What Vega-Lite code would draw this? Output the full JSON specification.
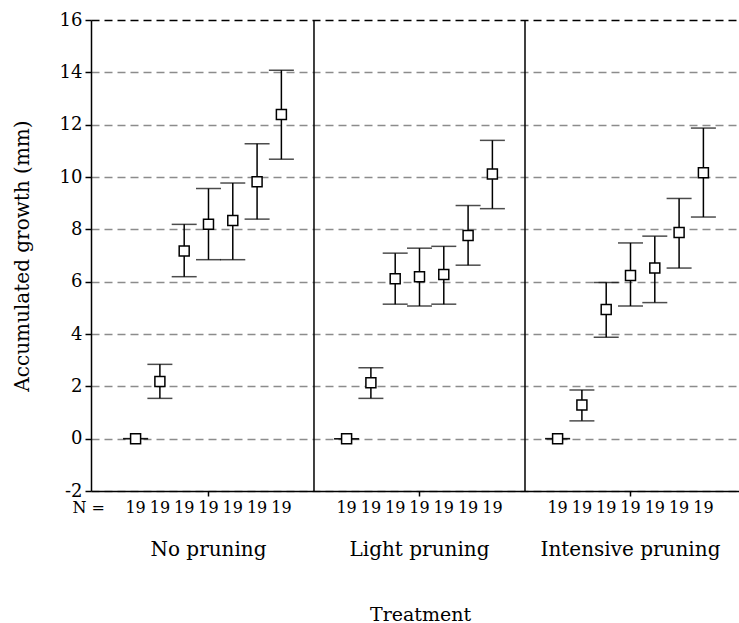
{
  "$schema": "https://vega.github.io/schema/vega-lite/v6.json",
  "width": 648,
  "height": 471,
  "autosize": {"type": "none"},
  "padding": {"left": 91, "top": 20, "right": 0, "bottom": 132},
  "background": "white",
  "config": {
    "view": {"stroke": null},
    "font": "DejaVu Serif",
    "axis": {
      "labelFont": "DejaVu Serif",
      "titleFont": "DejaVu Serif",
      "labelColor": "black",
      "titleColor": "black",
      "domainColor": "black",
      "tickColor": "black",
      "titleFontWeight": "normal",
      "domainWidth": 1.5,
      "tickWidth": 1.5
    },
    "axisX": {"tickSize": 5, "labelPadding": 59, "labelBaseline": "alphabetic", "labelFontSize": 20, "titleFontSize": 19, "titleBaseline": "alphabetic", "titleY": 129, "titleX": 329, "grid": false, "labelAngle": 0},
    "axisY": {"tickSize": 6, "labelPadding": 3, "labelFontSize": 18, "titleFontSize": 20, "titleBaseline": "alphabetic", "titleX": -63, "grid": true, "gridDash": [8, 5], "gridWidth": 1.5, "gridColor": "#8c8c8c"}
  },
  "data": {
    "values": [
      {"treatment": "No pruning", "time": 1, "mean": 0, "lower": 0, "upper": 0, "n": 19},
      {"treatment": "No pruning", "time": 2, "mean": 2.18, "lower": 1.54, "upper": 2.84, "n": 19},
      {"treatment": "No pruning", "time": 3, "mean": 7.17, "lower": 6.19, "upper": 8.19, "n": 19},
      {"treatment": "No pruning", "time": 4, "mean": 8.19, "lower": 6.84, "upper": 9.56, "n": 19},
      {"treatment": "No pruning", "time": 5, "mean": 8.34, "lower": 6.84, "upper": 9.77, "n": 19},
      {"treatment": "No pruning", "time": 6, "mean": 9.82, "lower": 8.39, "upper": 11.27, "n": 19},
      {"treatment": "No pruning", "time": 7, "mean": 12.39, "lower": 10.68, "upper": 14.08, "n": 19},
      {"treatment": "Light pruning", "time": 1, "mean": 0, "lower": 0, "upper": 0, "n": 19},
      {"treatment": "Light pruning", "time": 2, "mean": 2.14, "lower": 1.54, "upper": 2.71, "n": 19},
      {"treatment": "Light pruning", "time": 3, "mean": 6.11, "lower": 5.14, "upper": 7.09, "n": 19},
      {"treatment": "Light pruning", "time": 4, "mean": 6.19, "lower": 5.07, "upper": 7.28, "n": 19},
      {"treatment": "Light pruning", "time": 5, "mean": 6.27, "lower": 5.14, "upper": 7.35, "n": 19},
      {"treatment": "Light pruning", "time": 6, "mean": 7.76, "lower": 6.63, "upper": 8.91, "n": 19},
      {"treatment": "Light pruning", "time": 7, "mean": 10.11, "lower": 8.79, "upper": 11.40, "n": 19},
      {"treatment": "Intensive pruning", "time": 1, "mean": 0, "lower": 0, "upper": 0, "n": 19},
      {"treatment": "Intensive pruning", "time": 2, "mean": 1.29, "lower": 0.68, "upper": 1.86, "n": 19},
      {"treatment": "Intensive pruning", "time": 3, "mean": 4.94, "lower": 3.88, "upper": 5.97, "n": 19},
      {"treatment": "Intensive pruning", "time": 4, "mean": 6.24, "lower": 5.07, "upper": 7.48, "n": 19},
      {"treatment": "Intensive pruning", "time": 5, "mean": 6.52, "lower": 5.20, "upper": 7.74, "n": 19},
      {"treatment": "Intensive pruning", "time": 6, "mean": 7.88, "lower": 6.52, "upper": 9.18, "n": 19},
      {"treatment": "Intensive pruning", "time": 7, "mean": 10.16, "lower": 8.47, "upper": 11.87, "n": 19}
    ]
  },
  "layer": [
    {
      "mark": {"type": "rule", "color": "black", "strokeWidth": 1.5},
      "encoding": {
        "x": {"field": "treatment", "type": "nominal", "title": "Treatment", "sort": ["No pruning", "Light pruning", "Intensive pruning"],
              "scale": {"domain": ["No pruning", "Light pruning", "Intensive pruning"], "paddingInner": 0, "paddingOuter": 0.0355, "align": 0.8}},
        "xOffset": {"field": "time", "type": "ordinal", "scale": {"paddingInner": 0, "paddingOuter": 0.842}},
        "y": {"field": "lower", "type": "quantitative", "title": "Accumulated growth (mm)",
              "scale": {"domain": [-2, 16], "nice": false, "zero": false},
              "axis": {"values": [-2, 0, 2, 4, 6, 8, 10, 12, 14, 16],
                       "labelExpr": "datum.value < 0 ? '-' + abs(datum.value) : datum.label",
                       "gridColor": {"condition": {"test": "datum.value === 16", "value": "black"}, "value": "#8c8c8c"}}},
        "y2": {"field": "upper"}
      }
    },
    {
      "mark": {"type": "tick", "color": "black", "thickness": 1.5, "size": 25},
      "encoding": {
        "x": {"field": "treatment", "type": "nominal", "title": "Treatment"},
        "xOffset": {"field": "time", "type": "ordinal"},
        "y": {"field": "upper", "type": "quantitative", "title": "Accumulated growth (mm)"}
      }
    },
    {
      "mark": {"type": "tick", "color": "black", "thickness": 1.5, "size": 25},
      "encoding": {
        "x": {"field": "treatment", "type": "nominal", "title": "Treatment"},
        "xOffset": {"field": "time", "type": "ordinal"},
        "y": {"field": "lower", "type": "quantitative", "title": "Accumulated growth (mm)"}
      }
    },
    {
      "mark": {"type": "point", "shape": "square", "filled": true, "fill": "white", "stroke": "black", "strokeWidth": 1.5, "size": 100, "opacity": 1},
      "encoding": {
        "x": {"field": "treatment", "type": "nominal", "title": "Treatment"},
        "xOffset": {"field": "time", "type": "ordinal"},
        "y": {"field": "mean", "type": "quantitative", "title": "Accumulated growth (mm)"}
      }
    },
    {
      "mark": {"type": "text", "fontSize": 16, "baseline": "middle", "dy": 17, "color": "black", "font": "DejaVu Serif"},
      "encoding": {
        "x": {"field": "treatment", "type": "nominal", "title": "Treatment"},
        "xOffset": {"field": "time", "type": "ordinal"},
        "y": {"datum": -2, "type": "quantitative"},
        "text": {"field": "n", "type": "quantitative"}
      }
    },
    {
      "data": {"values": [{"label": "N =", "treatment": "No pruning"}]},
      "mark": {"type": "text", "fontSize": 16, "baseline": "middle", "align": "right", "dy": 17, "dx": 2, "color": "black", "font": "DejaVu Serif"},
      "encoding": {
        "x": {"field": "treatment", "type": "nominal", "title": "Treatment", "bandPosition": 0},
        "y": {"datum": -2, "type": "quantitative"},
        "text": {"field": "label", "type": "nominal"}
      }
    },
    {
      "data": {"values": [{"treatment": "Light pruning"}, {"treatment": "Intensive pruning"}]},
      "mark": {"type": "rule", "color": "black", "strokeWidth": 1.5},
      "encoding": {
        "x": {"field": "treatment", "type": "nominal", "title": "Treatment", "bandPosition": 0}
      }
    }
  ]
}
